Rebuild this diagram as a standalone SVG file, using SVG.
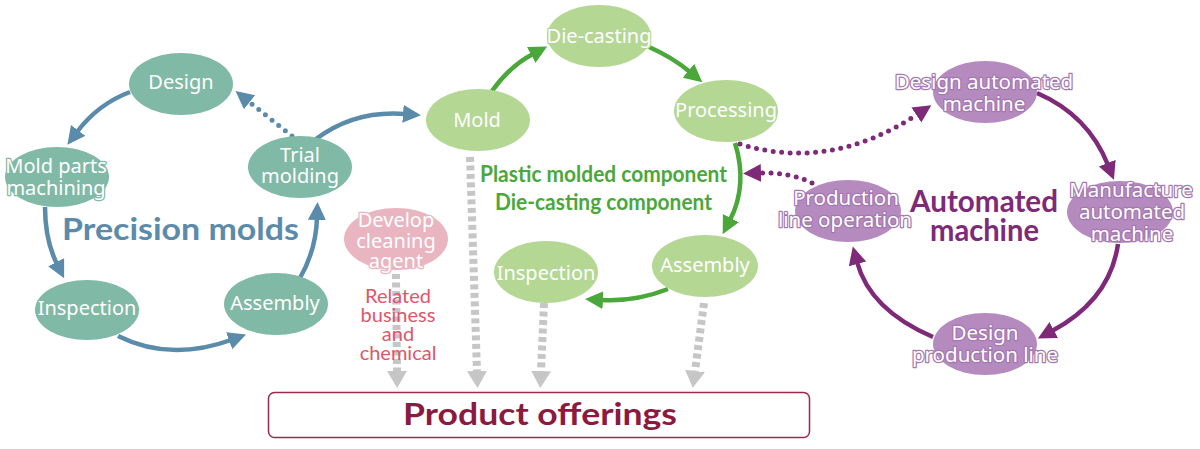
<svg xmlns="http://www.w3.org/2000/svg" width="1200" height="449" viewBox="0 0 1200 449">
<style>
.n text{font-family:"Noto Sans",Lato,sans-serif;font-size:20px;fill:#fff;text-anchor:middle;paint-order:stroke;stroke-width:2.5px;stroke-linejoin:round}
.teal ellipse{fill:#80b9a5}.teal text{stroke:#80b9a5}
.grn ellipse{fill:#b4d794}.grn text{stroke:#b4d794}
.pnk ellipse{fill:#e9b5c1}.pnk text{stroke:#e9b5c1}
.pur ellipse{fill:#b58bbf}.pur text{stroke:#a477b0;font-size:20.5px}
.c{fill:none;stroke-width:4.5}
.blue{stroke:#5b8bab}.green{stroke:#4aa83a}.purple{stroke:#7e2a79}
.dot{stroke-dasharray:0 8.5;stroke-linecap:round;stroke-width:5}
.gray{stroke:#c6c6c6;stroke-width:8;stroke-dasharray:5 3.5;fill:none}
.t{font-family:Lato,"Noto Sans",sans-serif;font-weight:bold}
</style>
<defs>
<marker id="mb" markerUnits="userSpaceOnUse" markerWidth="20" markerHeight="20" refX="2" refY="9" orient="auto"><path d="M0,0 L18,9 L0,18 z" fill="#5b8bab"/></marker>
<marker id="mg" markerUnits="userSpaceOnUse" markerWidth="20" markerHeight="20" refX="2" refY="9" orient="auto"><path d="M0,0 L18,9 L0,18 z" fill="#4aa83a"/></marker>
<marker id="mp" markerUnits="userSpaceOnUse" markerWidth="20" markerHeight="20" refX="2" refY="9" orient="auto"><path d="M0,0 L18,9 L0,18 z" fill="#7e2a79"/></marker>
<marker id="mx" markerUnits="userSpaceOnUse" markerWidth="20" markerHeight="22" refX="0" refY="10" orient="auto"><path d="M0,0 L17,10 L0,20 z" fill="#c6c6c6"/></marker>
</defs>
<g id="connectors">
<path class="c blue" d="M130,92 Q98,104 77,132" marker-end="url(#mb)"/>
<path class="c blue" d="M45,207 Q45,240 57,264" marker-end="url(#mb)"/>
<path class="c blue" d="M118,336 Q170,362 231,340" marker-end="url(#mb)"/>
<path class="c blue" d="M300,278 Q316,250 317,218" marker-end="url(#mb)"/>
<path class="c blue" d="M316,139 Q355,110 405,114" marker-end="url(#mb)"/>
<path class="c blue dot" d="M292,136 L248,101" marker-end="url(#mb)"/>
<path class="c green" d="M492,91 Q510,66 533,54" marker-end="url(#mg)"/>
<path class="c green" d="M649,47 Q672,57 690,72" marker-end="url(#mg)"/>
<path class="c green" d="M735,143 Q748,185 730,220" marker-end="url(#mg)"/>
<path class="c green" d="M668,289 Q635,302 601,300" marker-end="url(#mg)"/>
<path class="c purple" d="M1037,93 Q1088,115 1108,165" marker-end="url(#mp)"/>
<path class="c purple" d="M1118,244 Q1110,300 1052,331" marker-end="url(#mp)"/>
<path class="c purple" d="M933,337 Q870,310 857,262" marker-end="url(#mp)"/>
<path class="c purple dot" d="M740,144 Q830,172 918,114" marker-end="url(#mp)"/>
<path class="c purple dot" d="M812,183 Q790,172 759,173" marker-end="url(#mp)"/>
<path class="gray" d="M470,157 L477,371" marker-end="url(#mx)"/>
<path class="gray" d="M396,274 L397,371" marker-end="url(#mx)"/>
<path class="gray" d="M544,303 L541,371" marker-end="url(#mx)"/>
<path class="gray" d="M704,303 L695,371" marker-end="url(#mx)"/>
</g>
<g id="pm-design" class="n teal"><ellipse cx="181" cy="84" rx="52" ry="31"/><text x="181" y="89">Design</text></g>
<g id="pm-machining" class="n teal"><ellipse cx="57" cy="177" rx="52" ry="30"/><text x="56" y="173">Mold parts</text><text x="56" y="195">machining</text></g>
<g id="pm-trial" class="n teal"><ellipse cx="300" cy="167" rx="52" ry="31"/><text x="300" y="162">Trial</text><text x="300" y="183">molding</text></g>
<g id="pm-inspection" class="n teal"><ellipse cx="87" cy="310" rx="52" ry="30"/><text x="87" y="315">Inspection</text></g>
<g id="pm-assembly" class="n teal"><ellipse cx="276" cy="304" rx="52" ry="31"/><text x="275" y="310">Assembly</text></g>
<g id="c-mold" class="n grn"><ellipse cx="478" cy="120" rx="52" ry="31"/><text x="477" y="127">Mold</text></g>
<g id="c-diecasting" class="n grn"><ellipse cx="599" cy="36" rx="52" ry="31"/><text x="599" y="43">Die-casting</text></g>
<g id="c-processing" class="n grn"><ellipse cx="726" cy="111" rx="52" ry="31"/><text x="726" y="117">Processing</text></g>
<g id="c-assembly" class="n grn"><ellipse cx="705" cy="266" rx="53" ry="31"/><text x="705" y="272">Assembly</text></g>
<g id="c-inspection" class="n grn"><ellipse cx="546" cy="272" rx="52" ry="31"/><text x="546" y="280">Inspection</text></g>
<g id="develop" class="n pnk"><ellipse cx="396" cy="239" rx="52" ry="31"/><text x="396" y="227">Develop</text><text x="396" y="248">cleaning</text><text x="396" y="268">agent</text></g>
<g id="am-design" class="n pur"><ellipse cx="985" cy="92" rx="52" ry="31"/><text x="984" y="89">Design automated</text><text x="984" y="111">machine</text></g>
<g id="am-manufacture" class="n pur"><ellipse cx="1120" cy="212" rx="53" ry="31"/><text x="1131" y="197">Manufacture</text><text x="1132" y="219">automated</text><text x="1132" y="241">machine</text></g>
<g id="am-designline" class="n pur"><ellipse cx="985" cy="344" rx="52" ry="31"/><text x="985" y="340">Design</text><text x="985" y="362">production line</text></g>
<g id="am-operation" class="n pur"><ellipse cx="848" cy="211" rx="53" ry="31"/><text x="846" y="205">Production</text><text x="845" y="227">line operation</text></g>
<g id="labels">
<text class="t" x="62" y="240" font-size="31" fill="#5b8bab" textLength="237" lengthAdjust="spacingAndGlyphs">Precision molds</text>
<text class="t" x="480" y="182" font-size="23" fill="#4aa83a" textLength="247" lengthAdjust="spacingAndGlyphs">Plastic molded component</text>
<text class="t" x="495" y="210" font-size="23" fill="#4aa83a" textLength="217" lengthAdjust="spacingAndGlyphs">Die-casting component</text>
<text class="t" x="910" y="212" font-size="31" fill="#7e2a79" textLength="148" lengthAdjust="spacingAndGlyphs">Automated</text>
<text class="t" x="930" y="241" font-size="31" fill="#7e2a79" textLength="109" lengthAdjust="spacingAndGlyphs">machine</text>
<g font-family="Lato,'Noto Sans',sans-serif" font-size="20" fill="#e0556a" text-anchor="middle">
<text x="398" y="303">Related</text><text x="398" y="322">business</text><text x="398" y="341">and</text><text x="398" y="360">chemical</text>
</g>
</g>
<g id="product-offerings">
<rect x="268.5" y="392.5" width="541" height="45" rx="6" fill="#fff" stroke="#9a2a4a" stroke-width="1.5"/>
<text class="t" x="403" y="425" font-size="30" fill="#8c1a3f" textLength="274" lengthAdjust="spacingAndGlyphs">Product offerings</text>
</g>
</svg>
